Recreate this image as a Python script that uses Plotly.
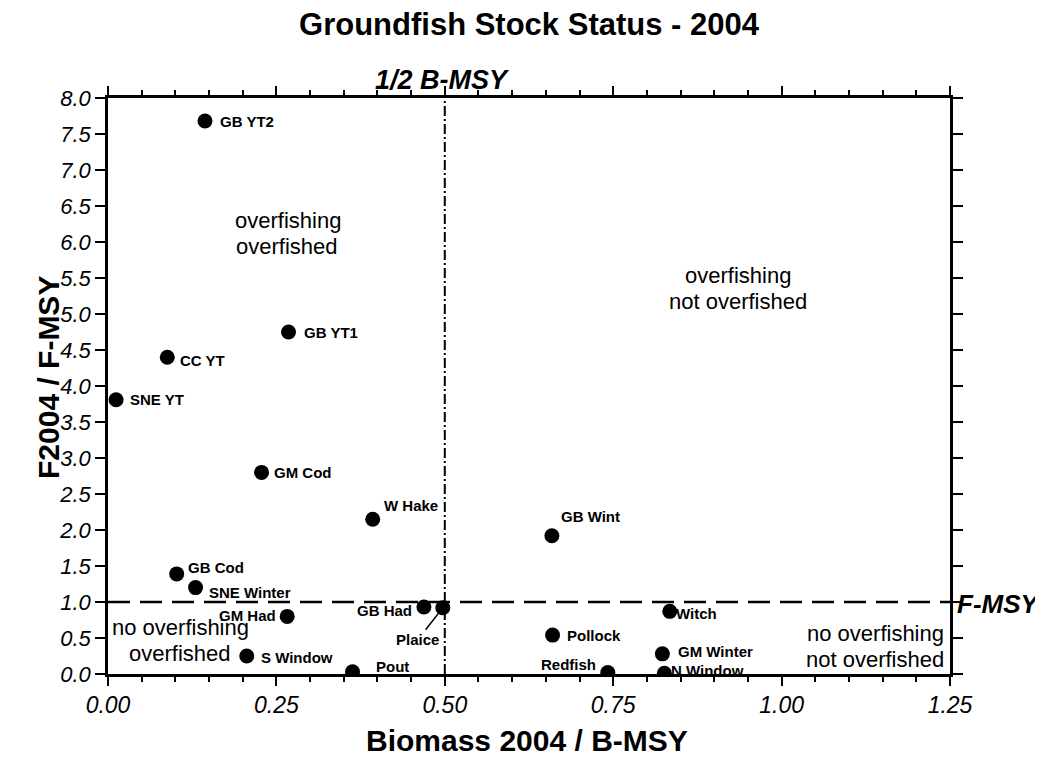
import plotly.graph_objects as go

stocks = ["GB YT2", "GB YT1", "CC YT", "SNE YT", "GM Cod", "W Hake", "GB Cod",
          "SNE Winter", "GM Had", "S Window", "Pout", "GB Had", "Plaice",
          "GB Wint", "Witch", "Pollock", "GM Winter", "N Window", "Redfish"]
biomass = [0.144, 0.268, 0.088, 0.012, 0.228, 0.393, 0.102,
           0.130, 0.266, 0.206, 0.363, 0.469, 0.497,
           0.659, 0.834, 0.660, 0.823, 0.826, 0.742]
fratio = [7.68, 4.75, 4.40, 3.81, 2.80, 2.15, 1.39,
          1.20, 0.80, 0.25, 0.03, 0.93, 0.92,
          1.92, 0.87, 0.54, 0.28, 0.01, 0.02]

x_ticks = [0.00, 0.25, 0.50, 0.75, 1.00, 1.25]
y_ticks = [i * 0.5 for i in range(17)]
f_msy = 1.0
half_bmsy = 0.5

# label placement (style): anchor, xshift px, yshift px
label_style = {
    "GB YT2": ("left", 13, 0), "GB YT1": ("left", 13, 0), "CC YT": ("left", 11, -3),
    "SNE YT": ("left", 12, 0), "GM Cod": ("left", 10, 0), "W Hake": ("left", 9, 14),
    "GB Cod": ("left", 9, 6), "SNE Winter": ("left", 11, -5), "GM Had": ("right", -9, 1),
    "S Window": ("left", 12, -1), "Pout": ("left", 21, 5), "GB Had": ("right", -10, -3),
    "GB Wint": ("left", 7, 19), "Witch": ("left", 4, -2), "Pollock": ("left", 12, 0),
    "GM Winter": ("left", 14, 2), "N Window": ("left", 5, 3), "Redfish": ("right", -10, 8),
}

FONT = "Liberation Sans, Arial, sans-serif"
LABEL_FONT = dict(family=FONT, size=15, color="black")

fig = go.Figure()
fig.add_trace(go.Scatter(x=biomass, y=fratio, mode="markers",
                         marker=dict(color="black", size=15), hoverinfo="text",
                         text=stocks, showlegend=False))

annotations = []
for name, bx, fy in zip(stocks, biomass, fratio):
    if name == "Plaice":
        annotations.append(dict(x=bx, y=fy, xref="x", yref="y", text="<b>Plaice</b>",
                                showarrow=True, arrowhead=0, arrowwidth=1.5, arrowcolor="black",
                                ax=-25, ay=32, standoff=3, font=LABEL_FONT))
        continue
    anc, xs, ys = label_style[name]
    annotations.append(dict(x=bx, y=fy, xref="x", yref="y", text=f"<b>{name}</b>",
                            showarrow=False, xanchor=anc, yanchor="middle", xshift=xs, yshift=ys,
                            font=LABEL_FONT))

region_font = dict(family=FONT, size=22, color="black")
region_lines = [
    ("overfishing", 0.267, 6.30, "center"), ("overfished", 0.265, 5.94, "center"),
    ("overfishing", 0.936, 5.53, "center"), ("not overfished", 0.935, 5.17, "center"),
    ("no overfishing", 0.108, 0.65, "center"), ("overfished", 0.107, 0.29, "center"),
    ("no overfishing", 1.243, 0.56, "right"), ("not overfished", 1.243, 0.20, "right"),
]
for txt, rx, ry, anc in region_lines:
    annotations.append(dict(x=rx, y=ry, xref="x", yref="y", text=txt, showarrow=False,
                            font=region_font, xanchor=anc, yanchor="middle", borderpad=0))

annotations += [
    dict(x=half_bmsy, y=1.0, xref="x", yref="paper", text="<b><i>1/2 B-MSY</i></b>", showarrow=False,
         font=dict(family=FONT, size=27, color="black"), yanchor="middle", xanchor="center",
         yshift=18, xshift=-2),
    dict(x=1.0, y=f_msy, xref="paper", yref="y", text="<b><i>F-MSY</i></b>", showarrow=False,
         font=dict(family=FONT, size=26, color="black"), xanchor="left", yanchor="middle",
         xshift=5, yshift=-2),
    dict(x=0.5, y=0.0, xref="paper", yref="paper", text="<b>Biomass 2004 / B-MSY</b>", showarrow=False,
         font=dict(family=FONT, size=30, color="black"), xanchor="center", yanchor="middle",
         yshift=-66, xshift=-2),
    dict(x=0.0, y=0.5, xref="paper", yref="paper", text="<b>F2004 / F-MSY</b>", showarrow=False,
         font=dict(family=FONT, size=30, color="black"), xanchor="center", yanchor="middle",
         textangle=-90, xshift=-60, yshift=8),
]

shapes = [
    dict(type="line", xref="paper", yref="y", x0=0, x1=1.0, y0=f_msy, y1=f_msy,
         line=dict(color="black", width=2.5, dash="22px,10px")),
    dict(type="line", xref="x", yref="y", x0=half_bmsy, x1=half_bmsy, y0=0, y1=8.0,
         line=dict(color="black", width=2, dash="10px,3px,2px,3px")),
]

# page has an 8px body margin; figure sized so the plot area lands where the reference has it
fig.update_layout(
    width=1035, height=755,
    paper_bgcolor="white", plot_bgcolor="white",
    margin=dict(l=100, r=93, t=90, b=89),
    title=dict(text="<b>Groundfish Stock Status - 2004</b>", x=0.5, xref="paper", xanchor="center",
               y=1 - 16 / 755, yref="container", yanchor="middle",
               font=dict(family=FONT, size=31, color="black")),
    annotations=annotations, shapes=shapes,
    xaxis=dict(range=[0, 1.25], tickvals=x_ticks, ticktext=[f"{v:.2f}" for v in x_ticks],
               showgrid=False, zeroline=False, showline=True, linecolor="black", linewidth=2.5,
               mirror="ticks", ticks="outside", ticklen=9, tickwidth=2, tickcolor="black",
               minor=dict(ticks="outside", dtick=0.05, tick0=0, ticklen=5, tickwidth=1.5, tickcolor="black"),
               tickfont=dict(family=FONT, size=23, color="black", style="italic"), automargin=False),
    xaxis2=dict(range=[0, 1.25], overlaying="x", side="top", matches="x", anchor="y",
                showticklabels=False, showgrid=False, zeroline=False, showline=False,
                tickvals=x_ticks, ticks="outside", ticklen=9, tickwidth=2, tickcolor="black",
                minor=dict(ticks="outside", dtick=0.05, tick0=0, ticklen=5, tickwidth=1.5, tickcolor="black"),
                automargin=False),
    yaxis=dict(range=[0, 8.0], tickvals=y_ticks, ticktext=[f"{v:.1f}" for v in y_ticks],
               showgrid=False, zeroline=False, showline=True, linecolor="black", linewidth=2.5,
               mirror="ticks", ticks="outside", ticklen=10, tickwidth=2, tickcolor="black",
               tickfont=dict(family=FONT, size=22, color="black", style="italic"), automargin=False),
)

fig.write_html("out.html")
